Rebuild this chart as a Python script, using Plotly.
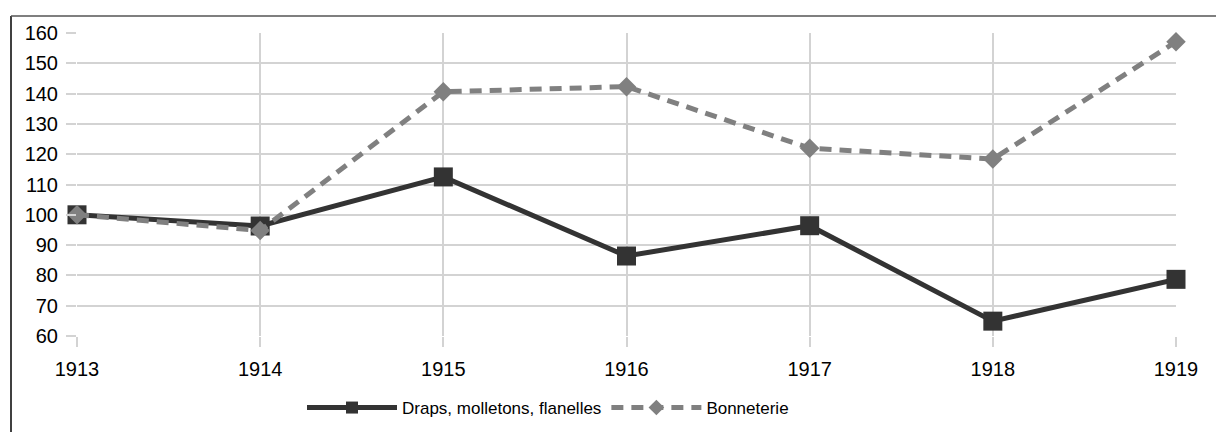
import plotly.graph_objects as go

years = [1913, 1914, 1915, 1916, 1917, 1918, 1919]
draps = [100, 96.3, 112.5, 86.4, 96.4, 64.9, 78.7]
bonneterie = [100, 94.8, 140.6, 142.3, 122.0, 118.4, 157.1]
y_ticks = list(range(60, 161, 10))

# page has an 8px body margin; figure coordinates are page coords minus 8
OFF = 8
W, H = 1224 - OFF, 432 - OFF
L, T = 77 - OFF, 33 - OFF
R, B = 48, 96
pw = W - L - R
ph = H - T - B

fig = go.Figure()
fig.add_trace(go.Scatter(
    x=years, y=draps, name="Draps, molletons, flanelles",
    mode="lines+markers", cliponaxis=False,
    line=dict(color="#333333", width=5),
    marker=dict(symbol="square", size=19, color="#333333"),
))
fig.add_trace(go.Scatter(
    x=years, y=bonneterie, name="Bonneterie",
    mode="lines+markers", cliponaxis=False,
    line=dict(color="#808080", width=5, dash="12px,8px"),
    marker=dict(symbol="diamond", size=15, color="#808080"),
))

grid = "#d3d3d3"
fig.update_xaxes(
    range=[1913, 1919], tickvals=years, ticktext=[str(y) for y in years],
    showgrid=True, gridcolor=grid, gridwidth=1.5,
    ticks="outside", ticklen=10, tickcolor=grid, tickwidth=1.5,
    showline=False, zeroline=False,
    tickfont=dict(family="Liberation Sans", size=20, color="#000000"),
    ticklabelstandoff=5, automargin=False,
)
fig.update_yaxes(
    range=[60, 160], tickvals=y_ticks,
    showgrid=True, gridcolor=grid, gridwidth=1.5,
    ticks="outside", ticklen=10, tickcolor=grid, tickwidth=1.5,
    showline=False, zeroline=False,
    tickfont=dict(family="Liberation Sans", size=20, color="#000000"),
    ticklabelstandoff=4, automargin=False,
)

# outer frame (left and top edges visible)
x_left = (11 - OFF - L) / pw
y_top = 1 + (T - (16 - OFF)) / ph
y_bot = -(H - (T + ph)) / ph
x_right = (W - L) / pw
fig.add_shape(type="line", xref="paper", yref="paper",
              x0=x_left, x1=x_left, y0=y_top, y1=y_bot,
              line=dict(color="#000000", width=1.5))
fig.add_shape(type="line", xref="paper", yref="paper",
              x0=x_left, x1=x_right, y0=y_top, y1=y_top,
              line=dict(color="#555555", width=1.5))

fig.update_layout(
    width=W, height=H,
    margin=dict(l=L, r=R, t=T, b=B, autoexpand=False),
    paper_bgcolor="white", plot_bgcolor="white",
    font=dict(family="Liberation Sans", color="#000000"),
    showlegend=True,
    legend=dict(
        orientation="h", x=(302 - OFF - L) / pw, xanchor="left",
        yref="container", y=1 - (408 - OFF) / H, yanchor="middle",
        font=dict(family="Liberation Sans", size=17, color="#000000"),
        bgcolor="rgba(0,0,0,0)", itemwidth=90, itemsizing="constant",
    ),
)

fig.write_html("out.html")
